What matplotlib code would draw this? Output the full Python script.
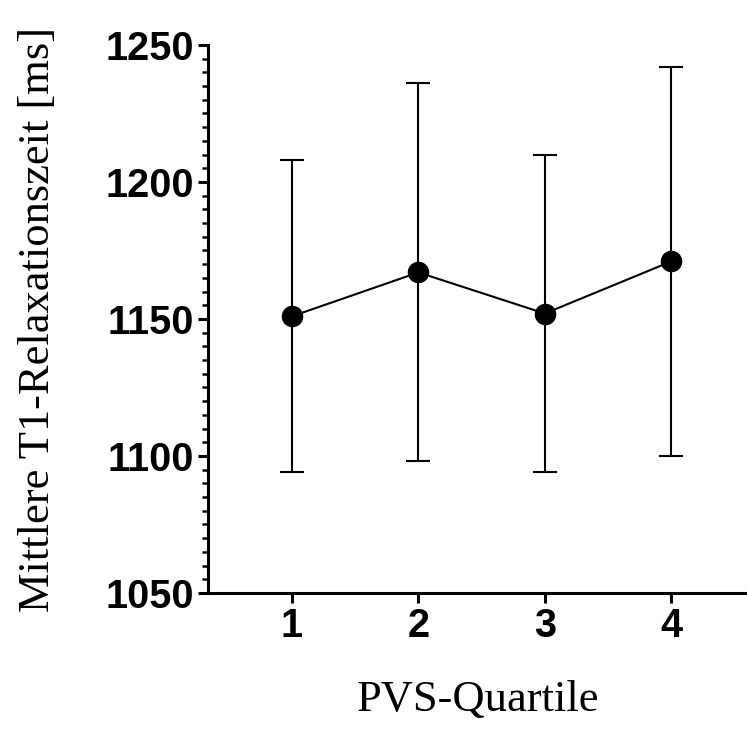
import numpy as np
import matplotlib.pyplot as plt
from matplotlib.ticker import MultipleLocator

quartile = [1, 2, 3, 4]
mean_t1 = [1151, 1167, 1152, 1171]
err_upper = [1208, 1236, 1210, 1242]
err_lower = [1094, 1098, 1094, 1100]

mean_arr = np.array(mean_t1)
yerr = [mean_arr - np.array(err_lower), np.array(err_upper) - mean_arr]

fig = plt.figure(figsize=(7.47, 7.29), dpi=100)
ax = fig.add_axes([208/747, 1 - 593/729, (747 - 208)/747, (593 - 45)/729])

ax.errorbar(quartile, mean_t1, yerr=yerr, fmt='o-', color='black',
            markersize=14.5, linewidth=1.5, elinewidth=1.5, capsize=8.5, capthick=1.5)

ax.set_xlim(0.335, 4.6)
ax.set_ylim(1050, 1250)
ax.set_xticks(quartile)
ax.yaxis.set_major_locator(MultipleLocator(50))
ax.yaxis.set_minor_locator(MultipleLocator(5))

for s in ['top', 'right']:
	ax.spines[s].set_visible(False)
for s in ['left', 'bottom']:
	ax.spines[s].set_linewidth(2.2)

ax.tick_params(axis='both', which='major', direction='out', length=7, width=2.2,
               labelsize=28.5, pad=3)
ax.tick_params(axis='y', which='minor', direction='out', length=4, width=1.8)
for lab in ax.get_xticklabels() + ax.get_yticklabels():
	lab.set_fontfamily('Liberation Sans')
	lab.set_fontweight('bold')

ax.set_ylabel('Mittlere T1-Relaxationszeit [ms]', fontfamily='Liberation Serif',
              fontsize=32, labelpad=34)
ax.set_xlabel('PVS-Quartile', fontfamily='Liberation Serif', fontsize=32, labelpad=25)

fig.savefig('out.png', dpi=100)
